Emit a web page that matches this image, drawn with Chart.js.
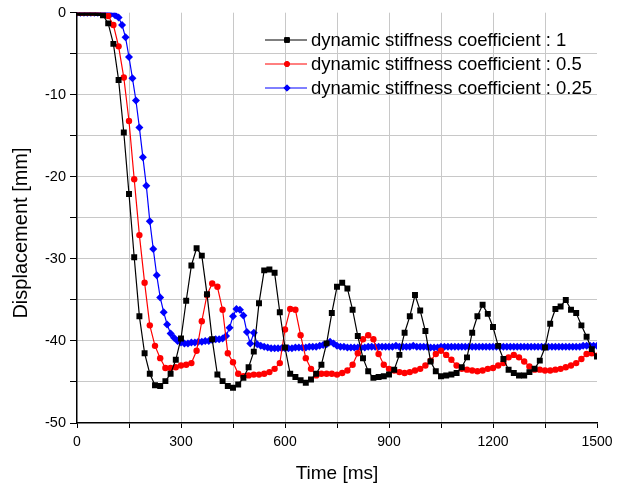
<!DOCTYPE html>
<html>
<head>
<meta charset="utf-8">
<script src="https://cdn.jsdelivr.net/npm/chart.js@4"></script>
<style>
  html, body { margin: 0; padding: 0; background: #fff; }
  #wrap { width: 626px; height: 492px; }
</style>
</head>
<body>
<div id="wrap"><canvas id="chart" width="626" height="492"></canvas></div>
<script>
// series labels
const seriesLabels = [
  'dynamic stiffness coefficient : 1',
  'dynamic stiffness coefficient : 0.5',
  'dynamic stiffness coefficient : 0.25',
];

// sampling step (ms) of each series
const stepBlack = 15;
const stepRed = 15;
const stepBlue = 10;

// displacement [mm], coefficient 1 (every 15 ms, 0..1500)
const dispBlack = [
  0, 0, 0, 0, -0.05, -0.3, -1.3, -3.8, -8.2, -14.6,
  -22.1, -29.8, -37.0, -41.5, -44.0, -45.4, -45.5, -44.9, -44.0, -42.3,
  -39.7, -35.1, -30.8, -28.7, -29.6, -34.3, -39.8, -44.1, -44.9, -45.5,
  -45.7, -45.3, -44.5, -43.2, -41.3, -35.4, -31.4, -31.3, -31.7, -36.5,
  -40.8, -44.0, -44.4, -44.8, -45.1, -44.7, -44.0, -42.9, -40.3, -36.6,
  -33.4, -32.9, -33.6, -36.2, -39.4, -42.1, -43.7, -44.5, -44.4, -44.3,
  -44.1, -43.5, -41.7, -39.0, -37.0, -34.4, -36.3, -38.8, -42.5, -43.7,
  -44.3, -44.2, -44.1, -43.9, -43.2, -42.0, -39.0, -37.0, -35.6, -36.7,
  -38.3, -40.6, -42.2, -43.5, -43.9, -44.2, -44.2, -43.8, -43.4, -42.4,
  -40.8, -37.9, -36.1, -35.8, -35.0, -36.2, -36.6, -38.1, -39.5, -41.0,
  -41.9
];

// displacement [mm], coefficient 0.5 (every 15 ms, 0..1500)
const dispRed = [
  0, 0, 0, 0, 0, -0.1, -0.4, -1.5, -4.1, -7.9,
  -13.2, -20.3, -27.1, -32.9, -38.1, -40.6, -42.1, -43.3, -43.3, -43.2,
  -43.0, -42.9, -42.7, -41.2, -37.6, -34.4, -33.0, -33.4, -36.2, -41.5,
  -42.6, -44.0, -44.3, -44.2, -44.1, -44.1, -44.0, -43.8, -43.4, -42.7,
  -38.6, -36.1, -36.2, -39.3, -42.1, -43.4, -44.2, -44.0, -44.0, -44.0,
  -44.1, -43.9, -43.6, -42.9, -41.5, -39.8, -39.3, -39.8, -41.6, -42.9,
  -43.4, -43.6, -43.8, -43.9, -43.8, -43.6, -43.4, -43.0, -42.4, -41.6,
  -41.2, -41.7, -42.3, -43.0, -43.4, -43.5, -43.6, -43.7, -43.6, -43.4,
  -43.3, -43.0, -42.7, -42.0, -41.7, -42.0, -42.5, -43.1, -43.5, -43.5,
  -43.6, -43.6, -43.5, -43.4, -43.2, -43.0, -42.7, -42.2, -41.6, -41.5,
  -41.8
];

// displacement [mm], coefficient 0.25 (every 10 ms, 0..1500)
const dispBlue = [
  0, 0, 0, 0, 0, 0, 0, 0, 0, 0, -0.1,
  -0.3, -0.6, -1.5, -3.0, -5.4, -8.0, -10.7, -14.0, -17.6, -21.1,
  -25.4, -28.8, -32.0, -34.7, -36.5, -38.0, -39.1, -39.6, -40.0, -40.2,
  -40.3, -40.3, -40.2, -40.2, -40.1, -40.1, -40.0, -40.0, -39.9, -39.8,
  -39.8, -39.7, -39.4, -38.4, -37.0, -36.1, -36.2, -36.9, -38.9, -40.3,
  -39.0, -40.4, -40.6, -40.7, -40.8, -40.9, -40.9, -40.9, -40.9, -40.9,
  -40.9, -40.9, -40.8, -40.8, -40.8, -40.8, -40.7, -40.7, -40.7, -40.6,
  -40.5, -40.4, -40.1, -40.3, -40.6, -40.7, -40.7, -40.8, -40.8, -40.8,
  -40.8, -40.8, -40.8, -40.7, -40.7, -40.7, -40.7, -40.7, -40.7, -40.7,
  -40.7, -40.6, -40.7, -40.7, -40.7, -40.7, -40.6, -40.7, -40.7, -40.7,
  -40.7, -40.8, -40.8, -40.8, -40.7, -40.7, -40.7, -40.7, -40.7, -40.7,
  -40.7, -40.7, -40.7, -40.7, -40.7, -40.7, -40.7, -40.7, -40.7, -40.7,
  -40.7, -40.7, -40.7, -40.7, -40.7, -40.7, -40.7, -40.7, -40.7, -40.7,
  -40.7, -40.7, -40.7, -40.7, -40.7, -40.7, -40.7, -40.7, -40.7, -40.7,
  -40.7, -40.7, -40.7, -40.7, -40.7, -40.6, -40.6, -40.6, -40.6, -40.6
];

// axis tick labels (every other grid step gets a label)
const xTickLabels = [0, 300, 600, 900, 1200, 1500];
const yTickLabels = [0, -10, -20, -30, -40, -50];

function toPoints(values, step) {
  return values.map((v, i) => ({ x: i * step, y: v }));
}

const FONT = '"Liberation Sans", Arial, sans-serif';

// legend drawn inside the plot: line + marker sample, then the label
const insideLegend = {
  id: 'insideLegend',
  afterDatasetsDraw(chart) {
    const ctx = chart.ctx;
    const rows = [40, 64, 88];
    ctx.save();
    chart.data.datasets.forEach((ds, i) => {
      const y = rows[i];
      ctx.strokeStyle = ds.borderColor;
      ctx.lineWidth = 1;
      ctx.beginPath();
      ctx.moveTo(265, y);
      ctx.lineTo(307, y);
      ctx.stroke();
      Chart.helpers.drawPoint(ctx, {
        pointStyle: ds.pointStyle,
        radius: ds.pointRadius * 0.8,
        borderWidth: 1,
      }, 287, y);
      ctx.fillStyle = ds.borderColor;
      ctx.fill();
      ctx.fillStyle = '#000';
      ctx.font = '18.5px ' + FONT;
      ctx.textAlign = 'left';
      ctx.textBaseline = 'middle';
      ctx.fillText(ds.label, 311, y + 1);
    });
    ctx.restore();
  },
};

// axis titles placed where the original puts them
const axisTitles = {
  id: 'axisTitles',
  afterDraw(chart) {
    const ctx = chart.ctx;
    ctx.save();
    ctx.fillStyle = '#000';
    ctx.textAlign = 'center';
    ctx.textBaseline = 'middle';
    ctx.font = '19px ' + FONT;
    ctx.fillText('Time [ms]', 337, 474);
    ctx.translate(21, 233);
    ctx.rotate(-Math.PI / 2);
    ctx.font = '20px ' + FONT;
    ctx.fillText('Displacement [mm]', 0, 0);
    ctx.restore();
  },
};

const gridColor = '#c8c8c8';

new Chart(document.getElementById('chart'), {
  type: 'line',
  data: {
    datasets: [
      {
        label: seriesLabels[0],
        data: toPoints(dispBlack, stepBlack),
        borderColor: '#000000',
        backgroundColor: '#000000',
        pointStyle: 'rect',
        pointRadius: 4.2,
      },
      {
        label: seriesLabels[1],
        data: toPoints(dispRed, stepRed),
        borderColor: '#ff0000',
        backgroundColor: '#ff0000',
        pointStyle: 'circle',
        pointRadius: 3.2,
      },
      {
        label: seriesLabels[2],
        data: toPoints(dispBlue, stepBlue),
        borderColor: '#0000ff',
        backgroundColor: '#0000ff',
        pointStyle: 'rectRot',
        pointRadius: 4,
      },
    ].map((d) => ({
      ...d,
      borderWidth: 1.2,
      pointBorderWidth: 0,
      pointHoverRadius: d.pointRadius,
      tension: 0,
      fill: false,
    })),
  },
  options: {
    responsive: false,
    animation: false,
    layout: { padding: { left: 0, right: 29, top: 12, bottom: 0 } },
    plugins: {
      legend: { display: false },
      tooltip: { enabled: false },
    },
    scales: {
      x: {
        type: 'linear',
        min: 0,
        max: 1500,
        afterFit: (s) => { s.height = 69; },
        afterBuildTicks: (s) => {
          s.ticks = [];
          for (let v = 0; v <= 1500; v += 150) s.ticks.push({ value: v });
        },
        ticks: {
          autoSkip: false,
          maxRotation: 0,
          padding: 6,
          color: '#000',
          font: { family: FONT, size: 14 },
          callback: (v) => (xTickLabels.includes(v) ? String(v) : ''),
        },
        grid: {
          color: (c) => (c.tick && (c.tick.value === 1500 || c.tick.value === 0) ? 'rgba(0,0,0,0)' : gridColor),
          tickColor: '#000',
          tickLength: 5,
          lineWidth: 1,
        },
        border: { color: '#000', width: 1.5 },
      },
      y: {
        min: -50,
        max: 0,
        afterFit: (s) => { s.width = 77; },
        afterBuildTicks: (s) => {
          s.ticks = [];
          for (let v = -50; v <= 0; v += 5) s.ticks.push({ value: v });
        },
        ticks: {
          autoSkip: false,
          padding: 4,
          color: '#000',
          font: { family: FONT, size: 14.5 },
          callback: (v) => (yTickLabels.includes(v) ? String(v) : ''),
        },
        grid: {
          color: (c) => (c.tick && (c.tick.value === 0 || c.tick.value === -50) ? 'rgba(0,0,0,0)' : gridColor),
          tickColor: '#000',
          tickLength: 7,
          lineWidth: 1,
        },
        border: { color: '#000', width: 1.5 },
      },
    },
  },
  plugins: [insideLegend, axisTitles],
});
</script>
</body>
</html>
